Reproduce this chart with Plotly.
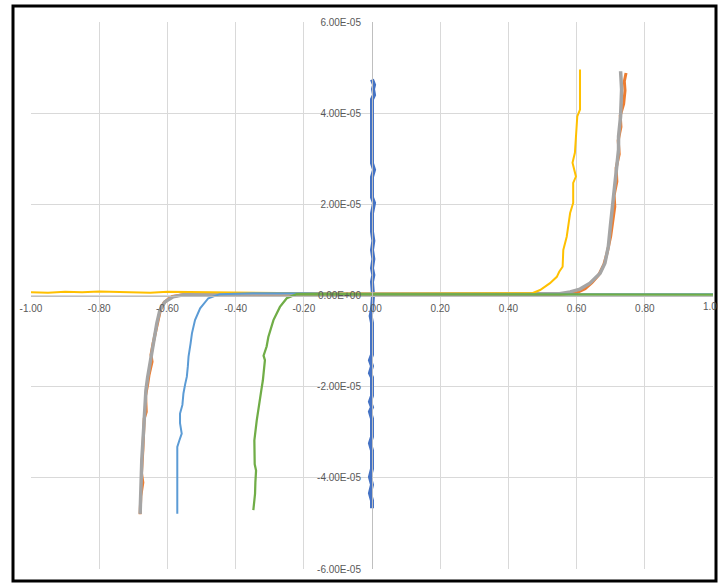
import plotly.graph_objects as go

# ---- data ----
x_ticks = [-1.0, -0.8, -0.6, -0.4, -0.2, 0.0, 0.2, 0.4, 0.6, 0.8, 1.0]
x_tick_labels = ["-1.00", "-0.80", "-0.60", "-0.40", "-0.20", "0.00", "0.20", "0.40", "0.60", "0.80", "1.00"]
y_ticks = [-6e-05, -4e-05, -2e-05, 0.0, 2e-05, 4e-05, 6e-05]
y_tick_labels = ["-6.00E-05", "-4.00E-05", "-2.00E-05", "0.00E+00", "2.00E-05", "4.00E-05", "6.00E-05"]

s1_x = [0.000, 0.000, -0.006, 0.000, -0.006, 0.000, 0.000, -0.006, 0.000, 0.000, -0.006, 0.000, -0.006,
        0.000, 0.000, -0.006, 0.000, -0.006, 0.000, 0.000, -0.004, 0.000, 0.003, 0.000, 0.004, 0.000,
        0.004, 0.000, 0.004, 0.000, 0.000, 0.006, 0.000, 0.000, 0.006, 0.000, 0.000, 0.006, 0.003,
        0.006, 0.000]
s1_y = [-4.67e-05, -4.50e-05, -4.34e-05, -4.15e-05, -3.98e-05, -3.80e-05, -3.40e-05, -3.24e-05, -3.10e-05,
        -2.70e-05, -2.55e-05, -2.45e-05, -2.33e-05, -2.20e-05, -1.80e-05, -1.70e-05, -1.55e-05, -1.42e-05,
        -1.30e-05, -0.60e-05, -0.45e-05, -0.30e-05, 0.0, 0.30e-05, 0.45e-05, 0.60e-05, 0.80e-05, 1.00e-05,
        1.20e-05, 1.40e-05, 1.80e-05, 2.03e-05, 2.15e-05, 2.60e-05, 2.76e-05, 2.90e-05, 4.30e-05, 4.40e-05,
        4.53e-05, 4.62e-05, 4.74e-05]

s2_x = [-0.680, -0.678, -0.672, -0.676, -0.672, -0.670, -0.668, -0.662, -0.664, -0.658, -0.654, -0.645,
        -0.648, -0.642, -0.636, -0.632, -0.626, -0.620, -0.610, -0.598, -0.585, -0.55, -0.45, -0.30, -0.10,
        0.10, 0.30, 0.45, 0.55, 0.60, 0.625, 0.645, 0.665, 0.680, 0.690, 0.700, 0.705, 0.712, 0.710, 0.718,
        0.716, 0.725, 0.722, 0.730, 0.728, 0.738, 0.742, 0.740, 0.745]
s2_y = [-4.80e-05, -4.40e-05, -4.10e-05, -3.90e-05, -3.40e-05, -3.00e-05, -2.70e-05, -2.55e-05, -2.20e-05,
        -1.95e-05, -1.75e-05, -1.45e-05, -1.30e-05, -1.05e-05, -0.85e-05, -0.65e-05, -0.45e-05, -0.30e-05,
        -0.16e-05, -0.08e-05, -0.02e-05, 0.02e-05, 0.03e-05, 0.03e-05, 0.02e-05, 0.03e-05, 0.02e-05,
        0.03e-05, 0.03e-05, 0.06e-05, 0.15e-05, 0.28e-05, 0.45e-05, 0.68e-05, 0.95e-05, 1.30e-05, 1.60e-05,
        1.95e-05, 2.20e-05, 2.50e-05, 2.80e-05, 3.10e-05, 3.40e-05, 3.70e-05, 3.95e-05, 4.20e-05, 4.50e-05,
        4.70e-05, 4.88e-05]

s3_x = [-0.680, -0.679, -0.678, -0.675, -0.671, -0.668, -0.663, -0.658, -0.651, -0.646, -0.641, -0.636,
        -0.631, -0.622, -0.607, -0.583, -0.55, -0.40, -0.20, 0.00, 0.20, 0.40, 0.55, 0.581, 0.610, 0.639,
        0.669, 0.683, 0.693, 0.700, 0.708, 0.713, 0.718, 0.723, 0.723, 0.729, 0.732, 0.729]
s3_y = [-4.79e-05, -4.40e-05, -4.06e-05, -3.60e-05, -3.10e-05, -2.60e-05, -2.08e-05, -1.80e-05, -1.48e-05,
        -1.20e-05, -0.98e-05, -0.78e-05, -0.61e-05, -0.32e-05, -0.14e-05, -0.03e-05, 0.02e-05, 0.03e-05,
        0.03e-05, 0.03e-05, 0.03e-05, 0.03e-05, 0.04e-05, 0.08e-05, 0.14e-05, 0.27e-05, 0.49e-05, 0.71e-05,
        1.07e-05, 1.59e-05, 2.10e-05, 2.54e-05, 2.90e-05, 3.20e-05, 3.49e-05, 3.93e-05, 4.52e-05, 4.92e-05]

s4_x = [-1.00, -0.95, -0.90, -0.85, -0.80, -0.75, -0.70, -0.65, -0.60, -0.50, -0.40, -0.30, -0.20, 0.00,
        0.20, 0.40, 0.47, 0.493, 0.522, 0.542, 0.549, 0.559, 0.561, 0.571, 0.581, 0.590, 0.590, 0.598,
        0.588, 0.595, 0.602, 0.610, 0.610]
s4_y = [0.07e-05, 0.06e-05, 0.08e-05, 0.07e-05, 0.09e-05, 0.08e-05, 0.07e-05, 0.06e-05, 0.08e-05, 0.07e-05,
        0.06e-05, 0.05e-05, 0.05e-05, 0.04e-05, 0.04e-05, 0.04e-05, 0.05e-05, 0.12e-05, 0.27e-05, 0.41e-05,
        0.52e-05, 0.63e-05, 1.00e-05, 1.29e-05, 1.81e-05, 2.03e-05, 2.47e-05, 2.61e-05, 2.91e-05, 3.13e-05,
        3.93e-05, 4.08e-05, 4.96e-05]

s5_x = [-0.571, -0.571, -0.565, -0.558, -0.563, -0.563, -0.556, -0.553, -0.548, -0.543, -0.540, -0.538,
        -0.532, -0.528, -0.519, -0.504, -0.480, -0.446, -0.35, -0.20, 0.00, 0.50, 1.00]
s5_y = [-4.79e-05, -3.32e-05, -3.18e-05, -3.03e-05, -2.80e-05, -2.59e-05, -2.40e-05, -2.15e-05, -1.95e-05,
        -1.78e-05, -1.55e-05, -1.34e-05, -1.05e-05, -0.83e-05, -0.54e-05, -0.28e-05, -0.06e-05, 0.03e-05,
        0.05e-05, 0.05e-05, 0.03e-05, 0.03e-05, 0.03e-05]

s6_x = [-0.348, -0.345, -0.343, -0.342, -0.340, -0.344, -0.345, -0.338, -0.333, -0.328, -0.324, -0.320,
        -0.314, -0.318, -0.309, -0.304, -0.289, -0.270, -0.250, -0.221, -0.10, 0.20, 0.60, 1.00]
s6_y = [-4.71e-05, -4.50e-05, -4.35e-05, -4.10e-05, -3.84e-05, -3.70e-05, -3.18e-05, -2.74e-05, -2.45e-05,
        -2.22e-05, -2.05e-05, -1.86e-05, -1.42e-05, -1.32e-05, -1.12e-05, -0.91e-05, -0.54e-05, -0.25e-05,
        -0.06e-05, 0.03e-05, 0.03e-05, 0.02e-05, 0.02e-05, 0.02e-05]

series = [
    (s1_x, s1_y, "#4472C4", 4.0),
    (s2_x, s2_y, "#ED7D31", 3.0),
    (s3_x, s3_y, "#A5A5A5", 3.5),
    (s4_x, s4_y, "#FFC000", 2.0),
    (s5_x, s5_y, "#5B9BD5", 2.0),
    (s6_x, s6_y, "#70AD47", 2.25),
]

fig = go.Figure()
for sx, sy, col, w in series:
    fig.add_trace(go.Scatter(x=sx, y=sy, mode="lines",
                             line=dict(color=col, width=w, shape="linear"),
                             showlegend=False, hoverinfo="skip"))

W, H = 718, 584
ml, mr, mt, mb = 31, 5, 22, 15
pw, ph = W - ml - mr, H - mt - mb

tick_font = dict(family="Liberation Sans Narrow, Liberation Sans, sans-serif", size=10, color="#595959")

fig.update_layout(
    width=W, height=H,
    margin=dict(l=ml, r=mr, t=mt, b=mb, pad=0),
    paper_bgcolor="white", plot_bgcolor="white",
    showlegend=False,
    xaxis=dict(range=[-1, 1], tickmode="array", tickvals=x_ticks, ticktext=x_tick_labels,
               showgrid=True, gridcolor="#D9D9D9", gridwidth=1, zeroline=False,
               showline=True, linecolor="#BFBFBF", linewidth=1,
               anchor="free", position=0.5, side="bottom", ticks="",
               tickfont=tick_font, ticklabelstandoff=3),
    yaxis=dict(range=[-6e-05, 6e-05], tickmode="array", tickvals=y_ticks, ticktext=y_tick_labels,
               showgrid=True, gridcolor="#D9D9D9", gridwidth=1, zeroline=False,
               showline=True, linecolor="#BFBFBF", linewidth=1,
               anchor="free", position=0.5, side="left", ticks="",
               tickfont=tick_font, ticklabelstandoff=9),
)

# last x tick label, which runs past the right edge of the picture (as in the reference)
fig.add_annotation(x=x_ticks[-1], y=0, xref="x", yref="y", text=x_tick_labels[-1],
                   showarrow=False, xanchor="center", yanchor="top", yshift=-3,
                   font=tick_font)

# outer frame of the picture
fig.add_shape(type="rect", xref="paper", yref="paper",
              x0=(13 - ml) / pw, x1=(716 - ml) / pw,
              y0=-(581 - (mt + ph)) / ph, y1=1 + (mt - 6) / ph,
              line=dict(color="black", width=3), fillcolor="rgba(0,0,0,0)", layer="above")

fig.write_html("out.html", config={"displayModeBar": False},
               post_script="document.body.style.margin='0';document.body.style.overflow='hidden';")
